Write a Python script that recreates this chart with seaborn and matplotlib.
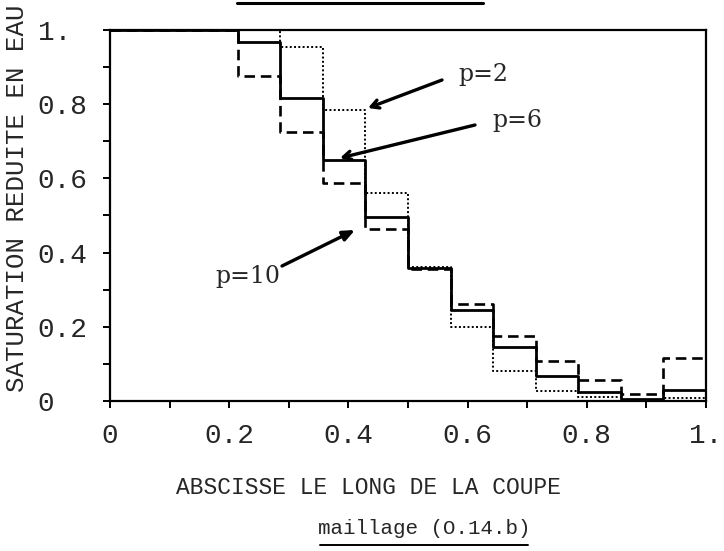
import numpy as np
import pandas as pd
import matplotlib.pyplot as plt
from matplotlib.lines import Line2D
import seaborn as sns

# ── Data ───────────────────────────────────────────────────────────────────
# 14 mesh cells along the cut, cell k spans [k/14, (k+1)/14]
n_cells = 14
cell_left = [k / n_cells for k in range(n_cells)]

sat_p2 = [1.0, 1.0, 1.0, 1.0, 0.955, 0.784, 0.561, 0.360, 0.200, 0.080, 0.027, 0.010, 0.000, 0.008]
sat_p6 = [1.0, 1.0, 1.0, 0.968, 0.816, 0.650, 0.497, 0.358, 0.245, 0.145, 0.068, 0.024, 0.005, 0.029]
sat_p10 = [1.0, 1.0, 1.0, 0.876, 0.725, 0.588, 0.463, 0.356, 0.262, 0.175, 0.108, 0.057, 0.020, 0.117]

series = {"p=2": sat_p2, "p=6": sat_p6, "p=10": sat_p10}

x_ticks = [0, 0.2, 0.4, 0.6, 0.8, 1.0]
x_ticklabels = ["0", "0.2", "0.4", "0.6", "0.8", "1."]
y_ticks = [0, 0.2, 0.4, 0.6, 0.8, 1.0]
y_ticklabels = ["0", "0.2", "0.4", "0.6", "0.8", "1."]

# long-form table; repeat last value at x=1 so steps-post closes the last cell
rows = []
for name, vals in series.items():
    xs = cell_left + [1.0]
    ys = vals + [vals[-1]]
    rows += [{"x": x, "sat": y, "p": name} for x, y in zip(xs, ys)]
df = pd.DataFrame(rows)

# ── Style ──────────────────────────────────────────────────────────────────
sns.set_style("ticks")
plt.rcParams["font.family"] = ["Liberation Mono", "DejaVu Sans Mono"]

fig = plt.figure(figsize=(7.24, 5.51), dpi=100)
ax = fig.add_axes([110 / 724, 1 - 401 / 551, 596 / 724, 371 / 551])

sns.lineplot(
    data=df, x="x", y="sat", style="p", hue="p",
    palette={"p=2": "black", "p=6": "black", "p=10": "black"},
    dashes={"p=2": (1.0, 1.2), "p=6": "", "p=10": (4.0, 2.2)},
    drawstyle="steps-post", estimator=None, sort=False,
    legend=False, ax=ax,
)
for line, lw in zip(ax.get_lines(), [1.4, 2.0, 1.9]):
    line.set_linewidth(lw)

ax.set_xlim(0, 1)
ax.set_ylim(0, 1)
ax.set_xticks(x_ticks, x_ticklabels)
ax.set_yticks(y_ticks, y_ticklabels)
ax.set_xticks(np.arange(0.1, 1.0, 0.2), minor=True)
ax.set_yticks(np.arange(0.1, 1.0, 0.2), minor=True)
ax.tick_params(which="both", direction="out", length=5, width=1.4, color="black")
ax.tick_params(axis="x", labelsize=20, pad=11)
# typewriter labels on the scan are left-aligned in a column
ax.tick_params(axis="y", labelsize=20, pad=47)
for lab in ax.get_yticklabels():
    lab.set_horizontalalignment("left")
ax.set_xlabel("")
ax.set_ylabel("")
for sp in ax.spines.values():
    sp.set_linewidth(1.6)
    sp.set_color("black")

# ── Annotations ────────────────────────────────────────────────────────────
def px(xp, yp):
    return ((xp - 110) / 596, (401 - yp) / 371)

open_head = dict(arrowstyle="->,head_length=0.55,head_width=0.3", lw=2.4, color="black",
                 shrinkA=0, shrinkB=0)
full_head = dict(arrowstyle="-|>,head_length=0.7,head_width=0.3", lw=2.4, color="black",
                 shrinkA=0, shrinkB=0)
labels = [
    ("p=2", px(458, 74), px(442, 80), px(368, 108), open_head),
    ("p=6", px(492, 121), px(475, 125), px(340, 158), open_head),
    ("p=10", px(215, 276), px(282, 266), px(355, 230), full_head),
]
for text, tpos, tail, tip, kw in labels:
    ax.annotate("", xy=tip, xytext=tail, arrowprops=kw)
    ax.text(tpos[0], tpos[1], text, fontsize=17, family="DejaVu Serif",
            ha="left", va="center")

# axis titles placed as on the scan
fig.text(17 / 724, 1 - 198 / 551, "SATURATION REDUITE EN EAU", rotation=90,
         fontsize=18.5, ha="center", va="center")
fig.text(368 / 724, 1 - 488 / 551, "ABSCISSE LE LONG DE LA COUPE",
         fontsize=16.5, ha="center", va="center")
fig.text(424 / 724, 1 - 528 / 551, "maillage (O.14.b)",
         fontsize=15, ha="center", va="center")

# underlines (figure caption and cut-off title above)
fig.add_artist(Line2D([320 / 724, 528 / 724], [1 - 545 / 551] * 2, color="black", lw=1.4))
fig.add_artist(Line2D([237 / 724, 483 / 724], [1 - 3 / 551] * 2, color="black", lw=2.2))

fig.savefig("out.png", dpi=100)
